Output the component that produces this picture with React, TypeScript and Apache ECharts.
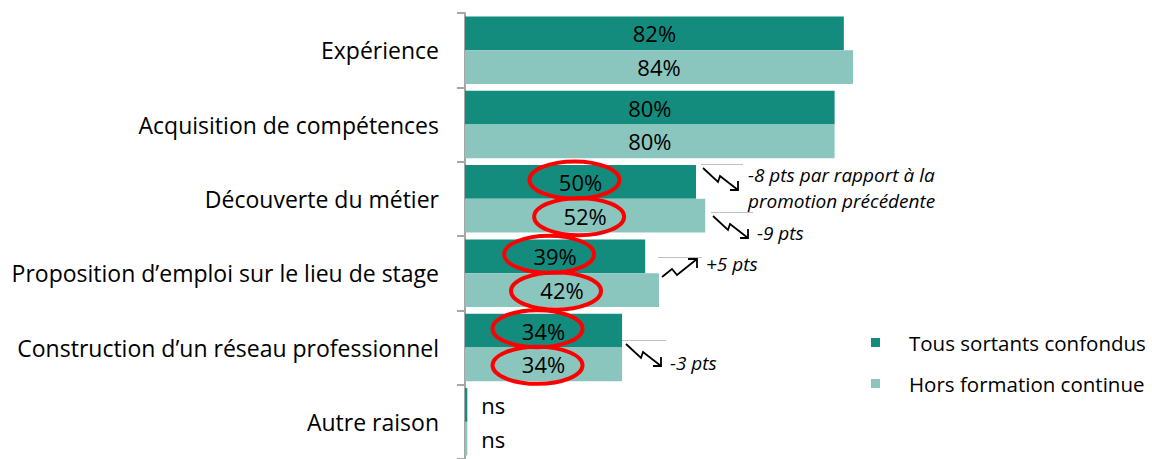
import React, { useEffect, useRef } from "react";
import * as echarts from "echarts";

const categories = [
  "Expérience",
  "Acquisition de compétences",
  "Découverte du métier",
  "Proposition d’emploi sur le lieu de stage",
  "Construction d’un réseau professionnel",
  "Autre raison",
];
const seriesNames = ["Tous sortants confondus", "Hors formation continue"];
const tousSortants = [82, 80, 50, 39, 34, 0.5];
const horsFormation = [84, 80, 52, 42, 34, 0.5];
const notSignificant = [false, false, false, false, false, true];
const circledCategories = [2, 3, 4];

const DARK = "#138C7E";
const LIGHT = "#8AC6BE";
const FONT = "Open Sans";

function makeData(values: number[]) {
  return values.map((v, i) =>
    notSignificant[i]
      ? { value: v, label: { position: "right", distance: 14, formatter: "ns" } }
      : { value: v }
  );
}

function downArrow(x: number, y: number) {
  return {
    type: "group",
    x,
    y,
    z: 100,
    children: [
      { type: "polyline", shape: { points: [[0, 0], [15, 14], [17, 8], [35, 22]] }, style: { stroke: "#000", lineWidth: 1.8, fill: null } },
      { type: "polyline", shape: { points: [[27, 22], [35, 22], [35, 13]] }, style: { stroke: "#000", lineWidth: 1.8, fill: null } },
    ],
  };
}
function upArrow(x: number, y: number) {
  return {
    type: "group",
    x,
    y,
    z: 100,
    children: [
      { type: "polyline", shape: { points: [[0, 0], [10, -8], [15, -2], [35, -18]] }, style: { stroke: "#000", lineWidth: 1.8, fill: null } },
      { type: "polyline", shape: { points: [[26, -18], [35, -18], [35, -9]] }, style: { stroke: "#000", lineWidth: 1.8, fill: null } },
    ],
  };
}
function grayLine(x1: number, x2: number, y: number) {
  return { type: "line", z: 100, shape: { x1, y1: y, x2, y2: y }, style: { stroke: "#BFBFBF", lineWidth: 1 } };
}
function note(x: number, y: number, text: string) {
  return {
    type: "text",
    z: 100,
    x,
    y,
    style: { text, font: `italic 19px '${FONT}'`, fill: "#000", verticalAlign: "middle", lineHeight: 26 },
  };
}

export default function App() {
  const ref = useRef<HTMLDivElement>(null);
  useEffect(() => {
    if (!ref.current) return;
    const chart = echarts.init(ref.current, undefined, { renderer: "svg" });
    const labelBase = {
      show: true,
      position: "inside",
      color: "#000",
      fontSize: 22,
      fontFamily: FONT,
      formatter: (p: any) => `${Math.round(p.value)}%`,
    };
    chart.setOption({
      animation: false,
      textStyle: { fontFamily: FONT },
      grid: { left: 465, top: 13, width: 462, height: 450 },
      xAxis: { type: "value", min: 0, max: 100, show: false },
      yAxis: {
        type: "category",
        inverse: true,
        data: categories,
        axisLine: { lineStyle: { color: "#A6A6A6", width: 2 } },
        axisTick: { show: true, length: 8, lineStyle: { color: "#A6A6A6", width: 2 } },
        axisLabel: { color: "#000", fontSize: 23, fontFamily: FONT, margin: 26 },
      },
      legend: {
        orient: "vertical",
        left: 866,
        top: 327,
        itemWidth: 9,
        itemHeight: 9,
        itemGap: 20,
        icon: "rect",
        data: seriesNames,
        textStyle: { fontSize: 20.5, color: "#000", fontFamily: FONT, padding: [0, 0, 0, 24] },
      },
      series: [
        {
          name: seriesNames[0],
          type: "bar",
          data: makeData(tousSortants),
          itemStyle: { color: DARK },
          barGap: "0%",
          barCategoryGap: "9.3%",
          label: labelBase,
        },
        {
          name: seriesNames[1],
          type: "bar",
          data: makeData(horsFormation),
          itemStyle: { color: LIGHT },
          barGap: "0%",
          barCategoryGap: "9.3%",
          label: labelBase,
        },
      ],
    });

    const y0 = chart.convertToPixel({ yAxisIndex: 0 }, 0) as number;
    const y1 = chart.convertToPixel({ yAxisIndex: 0 }, 1) as number;
    const band = y1 - y0;
    const barW = (band * (1 - 0.093)) / 2;
    const ellipses: any[] = [];
    circledCategories.forEach((ci) => {
      const cy = chart.convertToPixel({ yAxisIndex: 0 }, ci) as number;
      [tousSortants, horsFormation].forEach((vals, si) => {
        const cx = chart.convertToPixel({ xAxisIndex: 0 }, vals[ci] / 2) as number;
        ellipses.push({
          type: "ellipse",
          z: 100,
          shape: { cx: cx - 6, cy: cy + (si === 0 ? -barW / 2 - 2 : barW / 2 + 1), rx: 45, ry: 18.5 },
          style: { stroke: "#FF0000", lineWidth: 4, fill: null },
        });
      });
    });

    const annotations = [
      grayLine(701, 743, 164.5),
      downArrow(703, 168),
      note(748, 188, "-8 pts par rapport à la\npromotion précédente"),
      grayLine(711, 753, 212.5),
      downArrow(713, 216),
      note(757, 233, "-9 pts"),
      grayLine(658, 702, 257.5),
      upArrow(662, 277),
      note(706, 264, "+5 pts"),
      grayLine(622, 666, 340.5),
      downArrow(626, 344),
      note(670, 363, "-3 pts"),
    ];

    chart.setOption({ graphic: [...ellipses, ...annotations] });
    return () => chart.dispose();
  }, []);
  return <div ref={ref} style={{ width: 1152, height: 459, position: "absolute", left: 0, top: 0 }} />;
}
